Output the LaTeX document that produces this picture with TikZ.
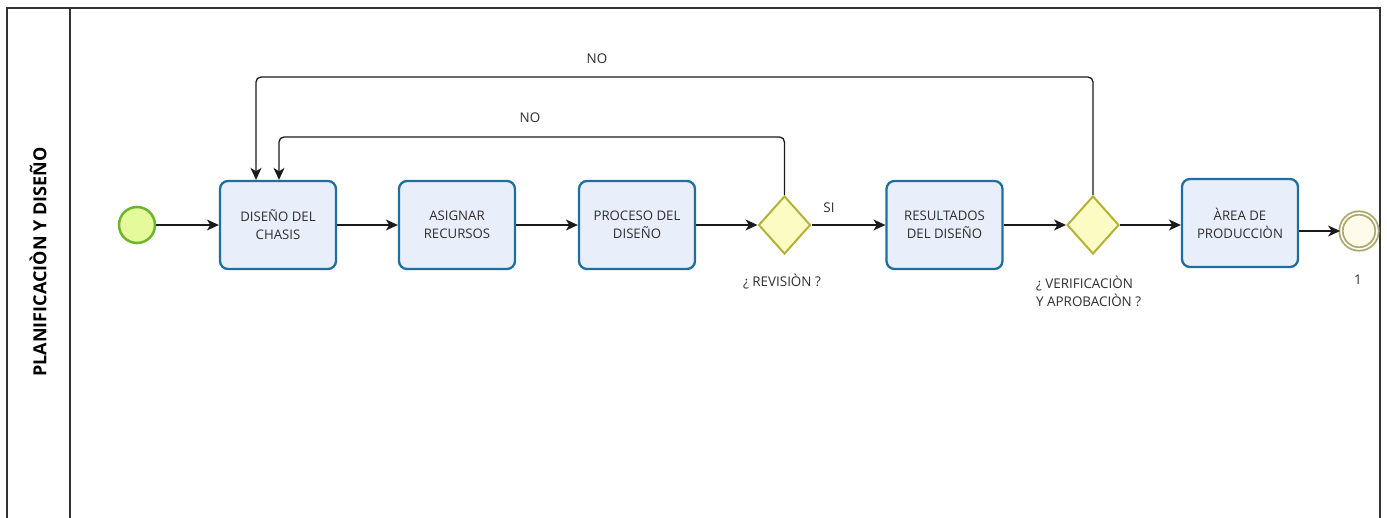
\documentclass[tikz,border=0pt]{standalone}
\usepackage{fontspec}
\setmainfont{Open Sans}
\usetikzlibrary{arrows.meta,shapes.geometric}

\definecolor{taskfill}{HTML}{E9EEFB}
\definecolor{taskdraw}{HTML}{1E6F9F}
\definecolor{gwfill}{HTML}{FBFBC4}
\definecolor{gwdraw}{HTML}{B3B236}
\definecolor{startfill}{HTML}{E4FA9B}
\definecolor{startdraw}{HTML}{6CB52D}
\definecolor{endfill}{HTML}{FFFBEA}
\definecolor{enddraw}{HTML}{ADA86A}
\definecolor{txt}{HTML}{2E2E2E}
\definecolor{linecol}{HTML}{1A1A1A}
\definecolor{framecol}{HTML}{333333}

\tikzset{
  task/.style={rectangle, rounded corners=8pt, draw=taskdraw, fill=taskfill,
    line width=2.3pt, minimum width=116pt, minimum height=88pt, align=center,
    text=txt, font=\fontsize{13.2}{18}\selectfont, inner sep=2pt},
  gateway/.style={diamond, draw=gwdraw, fill=gwfill, line width=2pt,
    minimum width=52pt, minimum height=58pt, inner sep=0pt},
  startev/.style={circle, draw=startdraw, fill=startfill, line width=2.5pt,
    minimum size=36pt, inner sep=0pt},
  endev/.style={circle, draw=enddraw, fill=endfill, line width=1.8pt,
    minimum size=36pt, inner sep=0pt,
    double=white, double distance=1.6pt},
  flow/.style={draw=linecol, line width=1.3pt,
    -{Stealth[length=12pt, width=11pt, inset=3.5pt]}},
  lbl/.style={text=txt, font=\fontsize{13.4}{18}\selectfont, inner sep=0pt},
  frame/.style={draw=framecol, line width=1.6pt},
}

\begin{document}
\begin{tikzpicture}[x=1pt, y=-1pt]
  \useasboundingbox (0,0) rectangle (1387,518);

  % pool and lane frame
  \draw[frame] (7,530) -- (7,8) -- (1380,8) -- (1380,530);
  \draw[frame] (70,8) -- (70,530);
  \node[rotate=90, text=black, font=\fontsize{18}{20}\selectfont\bfseries]
    (lane) at (38,262) {PLANIFICACIÒN Y DISEÑO};

  % events, tasks and gateways
  \node[startev] (s) at (137,225) {};
  \node[task] (t1) at (278,225) {DISEÑO DEL\\CHASIS};
  \node[task] (t2) at (457,225) {ASIGNAR\\RECURSOS};
  \node[task] (t3) at (637,225) {PROCESO DEL\\DISEÑO};
  \node[gateway] (g1) at (784.5,225) {};
  \node[task] (t4) at (944.5,225) {RESULTADOS\\DEL DISEÑO};
  \node[gateway] (g2) at (1093,225) {};
  \node[task] (t5) at (1240,223) {ÀREA DE\\PRODUCCIÒN};
  \node[endev] (e) at (1359,231) {};

  % labels
  \node[lbl] (lg1) at (782,282) {¿ REVISIÒN ?};
  \node[lbl, align=left, anchor=north west] (lg2) at (1036,276)
    {¿ VERIFICACIÒN\\Y APROBACIÒN ?};
  \node[lbl] (lend) at (1358,280) {1};
  \node[lbl] (lsi) at (829,208) {SI};
  \node[lbl] (lno1) at (530,118) {NO};
  \node[lbl] (lno2) at (597,59) {NO};

  % sequence flows
  \draw[flow] (s) -- (t1);
  \draw[flow] (t1) -- (t2);
  \draw[flow] (t2) -- (t3);
  \draw[flow] (t3) -- (g1);
  \draw[flow] (g1) -- (t4);
  \draw[flow] (t4) -- (g2);
  \draw[flow] (g2) -- (t5.west |- g2);
  \draw[flow] (t5.east |- e) -- (e);

  % loop-backs
  \coordinate (n1) at (279,137);
  \coordinate (n2) at (256,77);
  \draw[flow, rounded corners=5pt] (g1.north) |- (n1) -- (t1.north -| n1);
  \draw[flow, rounded corners=5pt] (g2.north) |- (n2) -- (t1.north -| n2);
\end{tikzpicture}
\end{document}
